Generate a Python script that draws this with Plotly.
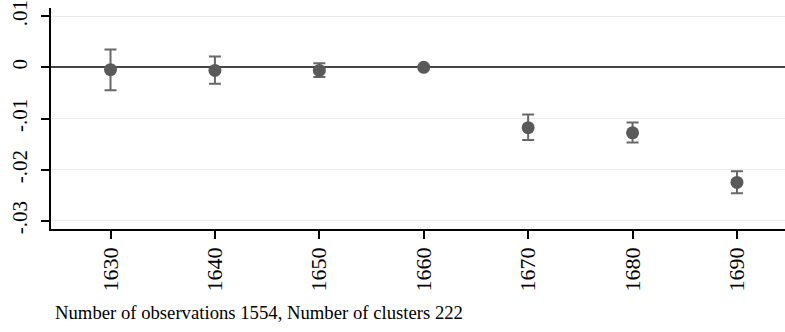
import plotly.graph_objects as go

years = [1630, 1640, 1650, 1660, 1670, 1680, 1690]
coef = [-0.00045, -0.0006, -0.0006, 0.0, -0.0118, -0.0128, -0.0225]
ci_hi = [0.0035, 0.0021, 0.0008, 0.0, -0.0092, -0.0108, -0.0203]
ci_lo = [-0.0045, -0.0032, -0.0019, 0.0, -0.0142, -0.0147, -0.0246]
ytick_vals = [0.01, 0, -0.01, -0.02, -0.03]
ytick_text = [".01", "0", "-.01", "-.02", "-.03"]
note = "Number of observations 1554, Number of clusters 222"

err_plus = [h - c for h, c in zip(ci_hi, coef)]
err_minus = [c - l for c, l in zip(coef, ci_lo)]

fig = go.Figure()
fig.add_trace(go.Scatter(
    x=years, y=coef, mode="markers",
    marker=dict(color="#5a5a5a", size=13),
    error_y=dict(type="data", symmetric=False, array=err_plus, arrayminus=err_minus,
                 color="#686868", thickness=2, width=6),
    showlegend=False,
))

font = "Liberation Serif"
fig.update_layout(
    width=785, height=332,
    margin=dict(l=51, r=0, t=8, b=103),
    paper_bgcolor="white", plot_bgcolor="white",
    font=dict(family=font, color="black", size=22),
    xaxis=dict(range=[1624.3, 1694.6], tickvals=years, tickangle=-90,
               showgrid=False, showline=True, linecolor="black", linewidth=1.5,
               ticks="outside", ticklen=8, tickcolor="black", tickwidth=1.5,
               zeroline=False, tickfont=dict(size=22, family=font), automargin=False,
               ticklabeloverflow="allow"),
    yaxis=dict(range=[-0.0316, 0.0116], tickvals=ytick_vals, ticktext=ytick_text,
               tickangle=-90, showgrid=True, gridcolor="#ebebeb", gridwidth=1,
               showline=True, linecolor="black", linewidth=1.5,
               ticks="outside", ticklen=8, tickcolor="black", tickwidth=1.5,
               zeroline=True, zerolinecolor="#444444", zerolinewidth=2,
               tickfont=dict(size=21, family=font), automargin=False,
               ticklabeloverflow="allow", ticklabelstandoff=6),
    annotations=[dict(text=note, xref="paper", yref="paper", x=0.003, y=-0.38,
                      xanchor="left", yanchor="middle", showarrow=False,
                      font=dict(size=18.7, family=font, color="black"))],
)

fig.write_html("out.html", config={"displayModeBar": False},
               post_script="document.body.style.margin='0';document.body.style.overflow='hidden';")
